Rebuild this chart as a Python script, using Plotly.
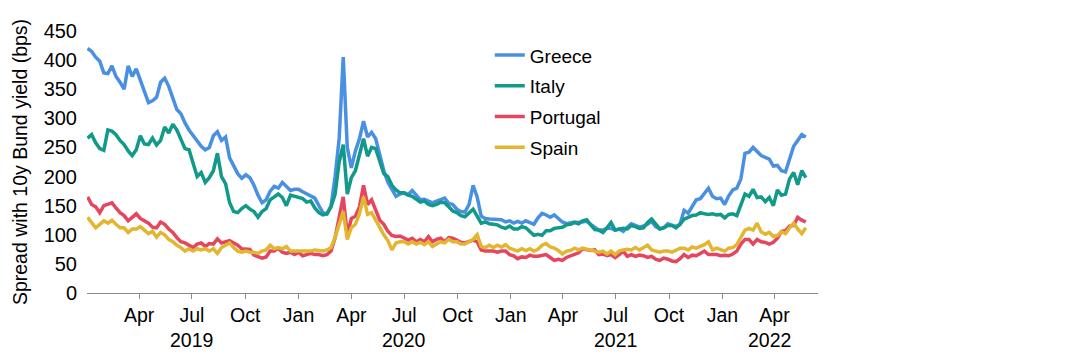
import pandas as pd
import plotly.graph_objects as go

# Weekly observations (Wednesdays) from 2 Jan 2019
dates = pd.date_range("2019-01-02", periods=178, freq="7D")

greece = [420,415,405,398,378,377,390,372,362,350,390,372,385,366,347,327,330,336,362,369,355,335,315,
          308,292,280,270,262,252,246,250,270,277,262,268,232,220,205,197,203,198,185,168,155,160,
          175,183,180,190,182,176,178,178,174,170,166,163,150,138,136,150,200,265,405,250,215,244,
          265,295,268,276,265,238,210,190,177,166,170,172,169,176,168,160,161,158,155,158,160,163,
          154,152,144,140,139,152,185,165,132,128,127,127,126,126,122,124,120,123,120,124,121,118,
          129,137,134,130,134,128,122,119,121,122,121,122,123,118,112,108,108,111,111,108,110,106,
          113,119,116,113,115,118,123,114,110,112,119,116,114,118,142,137,150,160,162,172,180,166,
          162,163,152,167,177,180,196,240,242,250,242,236,233,230,218,219,210,208,230,252,262,272,268]

italy = [266,272,258,248,245,280,278,272,262,255,244,236,246,270,256,255,266,254,262,285,275,290,280,
         262,248,246,222,200,207,190,198,210,240,200,188,155,140,138,145,150,144,140,130,140,145,
         160,165,170,164,150,168,166,165,162,156,158,146,138,134,136,148,170,225,255,170,198,210,
         240,265,235,250,248,228,205,200,185,177,172,172,168,166,161,156,158,152,150,152,156,155,
         148,141,138,133,131,138,144,132,120,122,119,118,117,113,111,115,110,110,114,112,105,99,
         101,99,107,107,111,112,113,117,118,121,119,124,126,117,109,108,104,112,121,108,109,111,
         110,116,114,111,112,121,127,118,110,112,116,116,112,118,127,130,133,134,138,136,135,136,
         134,135,129,135,136,133,152,170,166,178,164,165,157,164,150,177,168,170,196,207,186,210,198]

portugal = [165,152,148,138,150,152,155,146,138,133,124,130,136,128,124,120,113,112,122,118,110,104,95,
            88,86,82,78,84,86,80,85,84,93,86,88,90,86,82,76,75,75,65,62,60,62,
            72,72,77,70,68,70,66,70,64,66,68,66,66,64,66,72,95,130,165,100,128,132,
            148,185,152,160,142,125,118,106,99,97,98,95,91,94,88,92,88,97,88,92,94,88,
            95,94,90,87,86,88,91,88,74,72,72,72,70,72,72,66,64,59,62,61,65,63,
            63,64,66,61,56,58,56,61,64,66,69,76,75,73,74,66,67,64,66,61,66,72,
            63,66,63,65,64,61,63,58,56,60,58,55,54,59,66,61,65,64,68,72,66,66,
            66,64,65,64,67,72,84,92,92,84,92,88,87,84,87,94,106,107,115,116,130,125,122]

spain = [130,122,112,118,124,120,125,118,112,112,104,110,110,114,108,102,106,96,104,100,92,88,82,
         78,72,76,72,76,74,76,72,76,68,78,82,86,78,72,70,72,70,70,68,72,74,
         82,76,78,76,80,72,72,72,72,72,72,74,73,72,74,78,96,118,140,92,112,118,
         136,165,135,138,125,110,100,90,74,86,88,88,84,88,84,87,83,88,80,84,88,86,
         92,88,88,84,84,88,92,100,80,78,82,78,82,79,83,77,75,72,76,73,76,72,
         75,82,85,79,77,73,67,72,73,77,74,77,75,74,72,70,72,67,72,66,72,74,
         75,74,78,74,78,82,74,72,70,72,72,70,73,77,77,74,79,77,80,83,88,74,
         77,75,72,77,78,83,96,108,111,108,120,105,101,104,97,99,105,102,112,120,110,102,112]

series_names = ["Greece", "Italy", "Portugal", "Spain"]
series_values = [greece, italy, portugal, spain]
colors = ["#4A90E2", "#11998A", "#E6455E", "#E2B630"]

tick_dates = ["2019-04-01", "2019-07-01", "2019-10-01", "2020-01-01", "2020-04-01", "2020-07-01",
              "2020-10-01", "2021-01-01", "2021-04-01", "2021-07-01", "2021-10-01", "2022-01-01",
              "2022-04-01"]
tick_labels = ["Apr", "Jul", "Oct", "Jan", "Apr", "Jul", "Oct", "Jan", "Apr", "Jul", "Oct", "Jan", "Apr"]
year_labels = ["2019", "2020", "2021", "2022"]
year_positions = ["2019-07-01", "2020-07-01", "2021-07-01", "2022-03-24"]

FONT = "Liberation Sans, Arial, sans-serif"

fig = go.Figure()
for name, vals, col in zip(series_names, series_values, colors):
    fig.add_trace(go.Scatter(x=dates, y=vals, mode="lines", name=name, legendgroup=name,
                             line=dict(color=col, width=3.5)))

for txt, pos in zip(year_labels, year_positions):
    fig.add_annotation(x=pos, y=-0.181, xref="x", yref="paper", text=txt, showarrow=False,
                       xanchor="center", yanchor="middle", font=dict(family=FONT, size=19.5, color="black"))

fig.update_layout(
    width=1072, height=348,
    margin=dict(l=75, r=262, t=15, b=63),
    paper_bgcolor="white", plot_bgcolor="white",
    font=dict(family=FONT, size=19, color="black"),
    showlegend=True,
    legend=dict(x=0.551, y=0.98, xanchor="left", yanchor="top", bgcolor="rgba(0,0,0,0)",
                font=dict(family=FONT, size=19, color="black"), tracegroupgap=3,
                itemwidth=30),
    xaxis=dict(type="date", range=["2019-01-01", "2022-06-15"], tickmode="array",
               tickvals=tick_dates, ticktext=tick_labels, showgrid=False, zeroline=False,
               showline=True, linecolor="#8c8c8c", linewidth=1, ticks="outside", ticklen=5,
               tickcolor="#8c8c8c", tickfont=dict(family=FONT, size=19.5, color="black")),
    yaxis=dict(range=[0, 450], dtick=50, showgrid=False, zeroline=False, showline=False,
               ticks="", ticklabelstandoff=9, tickfont=dict(family=FONT, size=20, color="black"),
               title=dict(text="Spread with 10y Bund yield (bps)", standoff=10,
                          font=dict(family=FONT, size=19.5, color="black"))),
)

fig.write_html("out.html")
